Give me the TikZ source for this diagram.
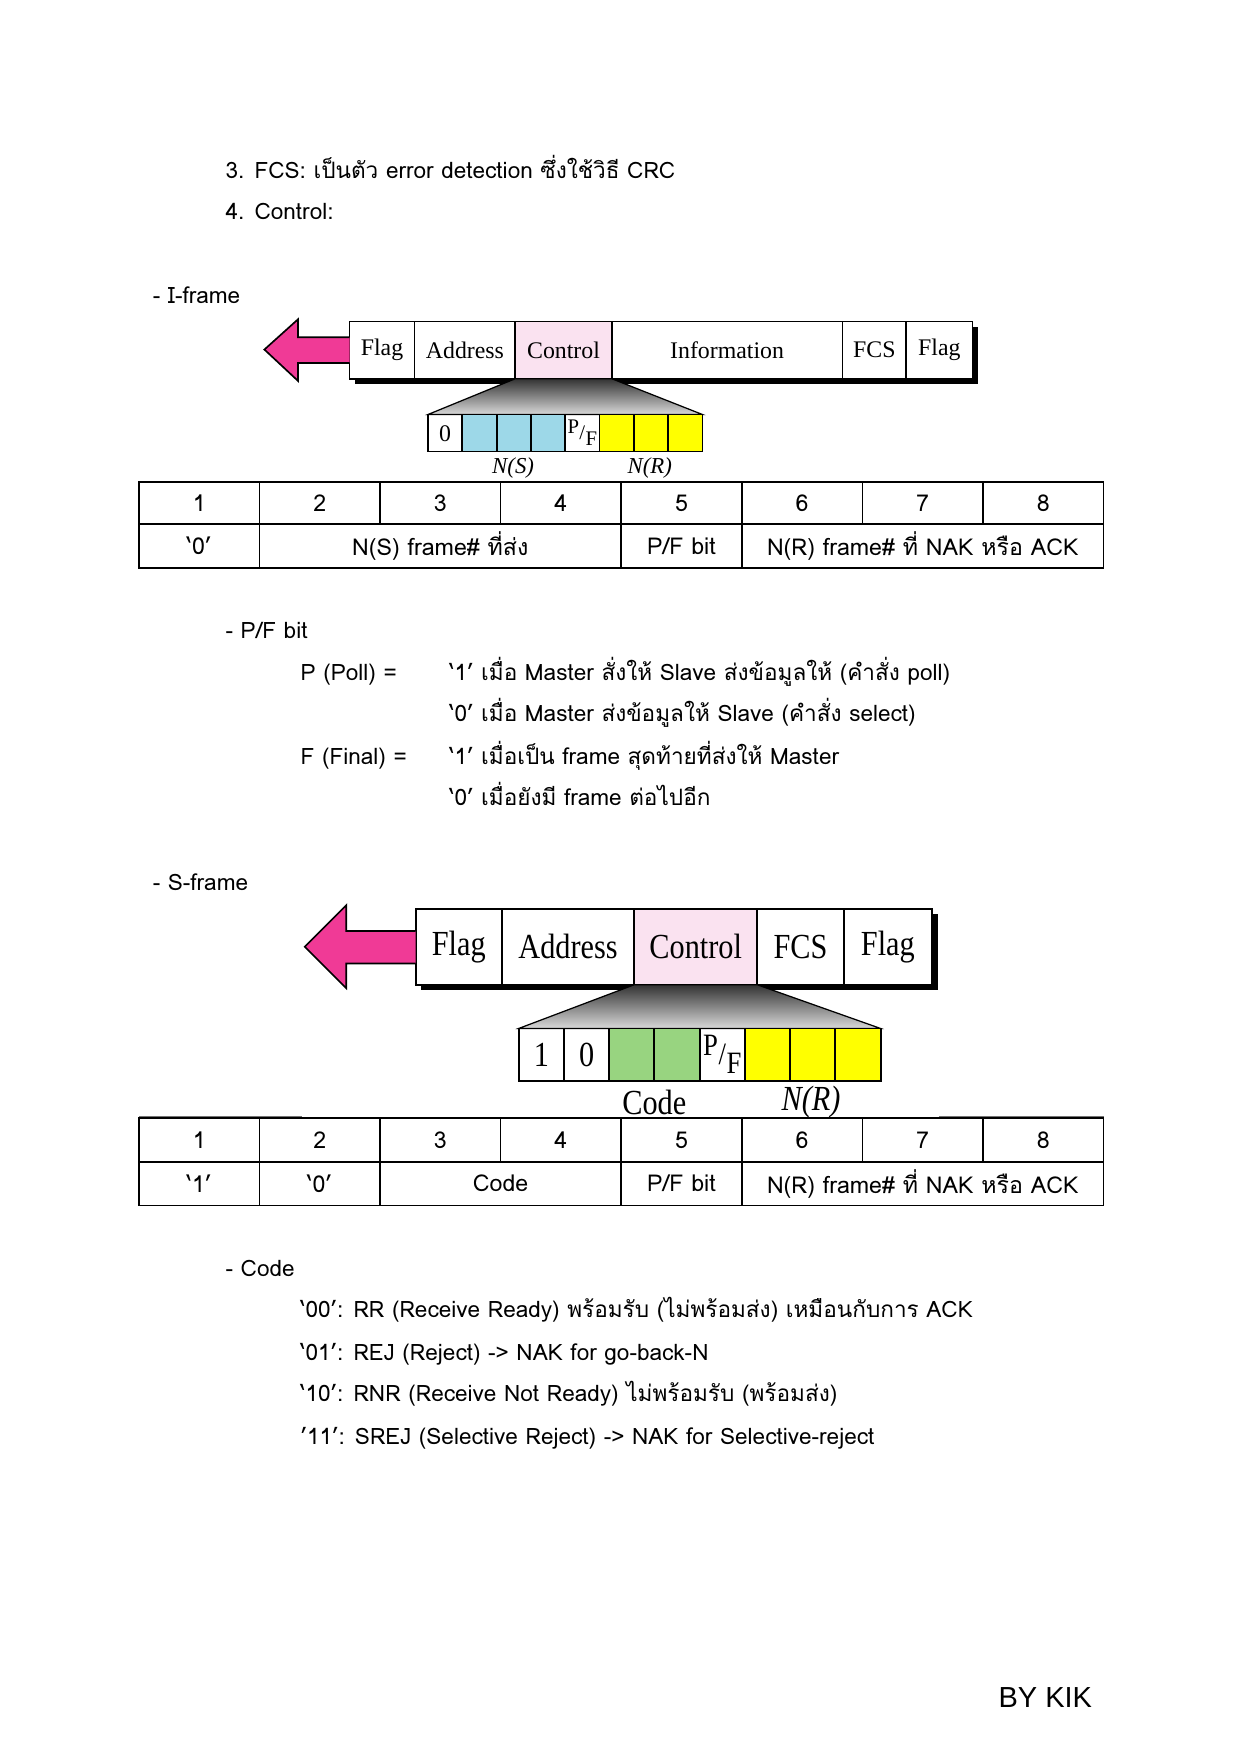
\documentclass[tikz,border=0pt]{standalone}
\usepackage{fontspec}
\setmainfont{Liberation Serif}
\newfontfamily\thai[Script=Thai]{Loma}
\newfontfamily\ser{Liberation Serif}
\newfontfamily\arial{Liberation Sans}
\definecolor{magent}{RGB}{240,58,150}
\definecolor{pinkc}{RGB}{250,226,240}
\definecolor{bluec}{RGB}{157,216,232}
\definecolor{greenc}{RGB}{152,212,128}
\definecolor{yellowc}{RGB}{255,255,0}
\newcommand{\pfbits}{\raisebox{0.28em}{P}\kern0.02em/\kern0.02em\raisebox{-0.3em}{F}}
\begin{document}
\begin{tikzpicture}[x=0.541pt,y=-0.541pt,
  body/.style={anchor=base west, inner sep=0pt, font=\thai\fontsize{10.9}{13}\selectfont},
  tcell/.style={inner sep=0pt, font=\thai\fontsize{11.2}{13}\selectfont},
  ifr/.style={inner sep=0pt, font=\ser\fontsize{11.5}{13}\selectfont},
  sfr/.style={inner sep=0pt, font=\ser\fontsize{17}{19}\selectfont},
  pfi/.style={inner sep=0pt, font=\ser\fontsize{10}{10}\selectfont},
  pfs/.style={inner sep=0pt, font=\ser\fontsize{15}{15}\selectfont},
  tab/.style={line width=0.8pt},
  frm/.style={line width=0.9pt},
  arr/.style={fill=magent, draw=black, line width=0.8pt, line join=miter}]
\fill[white] (0,0) rectangle (1107.7,1566.5);
\useasboundingbox (0,0) rectangle (1107.7,1566.5);

% ---------- heading texts ----------
\node[body] (t1) at (201,159) {3. FCS: เป็นตัว error detection ซึ่งใช้วิธี CRC};
\node[body] (t2) at (201,196) {4. Control:};
\node[body] (t3) at (136,271) {- I-frame};

% ---------- I-frame ----------
\fill[black] (317,292) rectangle (873,343);
\fill[pinkc] (460,287) rectangle (546,338);
\fill[white] (312,287) rectangle (460,338);
\fill[white] (546,287) rectangle (868,338);
\draw[frm] (312,287) rectangle (868,338);
\foreach \xx in {370,460,546,752,809} \draw[frm] (\xx,287) -- (\xx,338);
\node[ifr] (if1) at (341,312.5) {Flag};
\node[ifr] (if2) at (415,312.5) {Address};
\node[ifr] (if3) at (503,312.5) {Control};
\node[ifr] (if4) at (649,312.5) {Information};
\node[ifr] (if5) at (780.5,312.5) {FCS};
\node[ifr] (if6) at (838.5,312.5) {Flag};
\draw[arr] (312,301) -- (266,301) -- (266,285) -- (236,312) -- (266,340) -- (266,324) -- (312,324);
\shade[top color=black!80, bottom color=black!15, draw=black, line width=0.6pt]
  (460,338) -- (546,338) -- (627,370) -- (382,370) -- cycle;
\fill[bluec] (412.625,370) rectangle (504.5,403);
\fill[yellowc] (535.125,370) rectangle (627,403);
\draw[frm] (382,370) rectangle (627,403);
\foreach \k in {1,...,7} \draw[frm] ({382+30.625*\k},370) -- ({382+30.625*\k},403);
\node[ifr] (ib0) at (397.3,387) {0};
\node[pfi] (ibpf) at (519.8,386.5) {\pfbits};
\node[ifr, font=\ser\itshape\fontsize{11}{13}\selectfont] (ins) at (458,418) {N(S)};
\node[ifr, font=\ser\itshape\fontsize{11}{13}\selectfont] (inr) at (580,418) {N(R)};

% ---------- table 1 ----------
\draw[tab] (124,430) rectangle (985,507);
\draw[tab] (124,468) -- (985,468);
\foreach \k in {1,...,7} \draw[tab] ({124+107.625*\k},430) -- ({124+107.625*\k},468);
\foreach \k in {1,4,5} \draw[tab] ({124+107.625*\k},468) -- ({124+107.625*\k},507);
\foreach \k in {1,...,8} \node[tcell] (ta\k) at ({124+107.625*(\k-0.5)},449) {\k};
\node[tcell] (tb1) at (177.8,487.5) {‘0’};
\node[tcell] (tb2) at (393,487.5) {N(S) frame\# ที่ส่ง};
\node[tcell] (tb3) at (608.3,487.5) {P/F bit};
\node[tcell] (tb4) at (823.7,487.5) {N(R) frame\# ที่ NAK หรือ ACK};

% ---------- P/F bit ----------
\node[body] (p0) at (201,570) {- P/F bit};
\node[body] (p1) at (268,607) {P (Poll) =};
\node[body] (p2) at (401,607) {‘1’ เมื่อ Master สั่งให้ Slave ส่งข้อมูลให้ (คำสั่ง poll)};
\node[body] (p3) at (401,644) {‘0’ เมื่อ Master ส่งข้อมูลให้ Slave (คำสั่ง select)};
\node[body] (p4) at (268,682) {F (Final) =};
\node[body] (p5) at (401,682) {‘1’ เมื่อเป็น frame สุดท้ายที่ส่งให้ Master};
\node[body] (p6) at (401,719) {‘0’ เมื่อยังมี frame ต่อไปอีก};

% ---------- S-frame ----------
\node[body] (s0) at (136,795) {- S-frame};
\fill[black] (376,816) rectangle (837,884);
\fill[white] (371,811) rectangle (566,879);
\fill[pinkc] (566,811) rectangle (676,879);
\fill[white] (676,811) rectangle (832,879);
\draw[frm] (371,811) rectangle (832,879);
\foreach \xx in {448,566,676,753} \draw[frm] (\xx,811) -- (\xx,879);
\node[sfr] (sf1) at (409.5,845) {\scalebox{0.86}[1]{Flag}};
\node[sfr] (sf2) at (507,845) {\scalebox{0.86}[1]{Address}};
\node[sfr] (sf3) at (621,845) {\scalebox{0.86}[1]{Control}};
\node[sfr] (sf4) at (714.5,845) {\scalebox{0.86}[1]{FCS}};
\node[sfr] (sf5) at (792.5,845) {\scalebox{0.86}[1]{Flag}};
\draw[arr] (371,831) -- (309,831) -- (309,808) -- (272,845) -- (309,882) -- (309,860) -- (371,860);
\shade[top color=black!80, bottom color=black!15, draw=black, line width=0.6pt]
  (566,879) -- (676,879) -- (786,918) -- (463,918) -- cycle;
\fill[greenc] (543.75,918) rectangle (624.5,965);
\fill[yellowc] (664.875,918) rectangle (786,965);
\draw[frm] (463,918) rectangle (786,965);
\foreach \k in {1,...,7} \draw[frm] ({463+40.375*\k},918) -- ({463+40.375*\k},965);
\node[sfr] (sb1) at (483.2,942) {\scalebox{0.86}[1]{1}};
\node[sfr] (sb2) at (523.6,942) {\scalebox{0.86}[1]{0}};
\node[pfs] (sbpf) at (644.7,941.5) {\scalebox{0.86}[1]{\pfbits}};
\node[sfr] (scd) at (584,984) {\scalebox{0.86}[1]{Code}};
\node[sfr, font=\ser\itshape\fontsize{17}{19}\selectfont] (snr) at (724,984) {\scalebox{0.86}[1]{N(R)}};

% ---------- table 2 ----------
\draw[black!55, line width=0.8pt] (124,996.5) -- (270,996.5);
\draw[black!55, line width=0.8pt] (838,996.5) -- (985,996.5);
\draw[tab] (124,998) rectangle (985,1076);
\draw[tab] (124,1037) -- (985,1037);
\foreach \k in {1,...,7} \draw[tab] ({124+107.625*\k},998) -- ({124+107.625*\k},1037);
\foreach \k in {1,2,4,5} \draw[tab] ({124+107.625*\k},1037) -- ({124+107.625*\k},1076);
\foreach \k in {1,...,8} \node[tcell] (tc\k) at ({124+107.625*(\k-0.5)},1017.5) {\k};
\node[tcell] (td1) at (177.8,1056.5) {‘1’};
\node[tcell] (td2) at (285.4,1056.5) {‘0’};
\node[tcell] (td3) at (446.9,1056.5) {Code};
\node[tcell] (td4) at (608.3,1056.5) {P/F bit};
\node[tcell] (td5) at (823.7,1056.5) {N(R) frame\# ที่ NAK หรือ ACK};

% ---------- Code ----------
\node[body] (c0) at (201,1139) {- Code};
\node[body] (c1) at (268,1176) {‘00’: RR (Receive Ready) พร้อมรับ (ไม่พร้อมส่ง) เหมือนกับการ ACK};
\node[body] (c2) at (268,1214) {‘01’: REJ (Reject) -> NAK for go-back-N};
\node[body] (c3) at (268,1251) {‘10’: RNR (Receive Not Ready) ไม่พร้อมรับ (พร้อมส่ง)};
\node[body] (c4) at (268,1289) {’11’: SREJ (Selective Reject) -> NAK for Selective-reject};

\node[anchor=base west, inner sep=0pt, font=\arial\fontsize{14}{16}\selectfont] (by) at (891,1524) {BY KIK};
\end{tikzpicture}
\end{document}
